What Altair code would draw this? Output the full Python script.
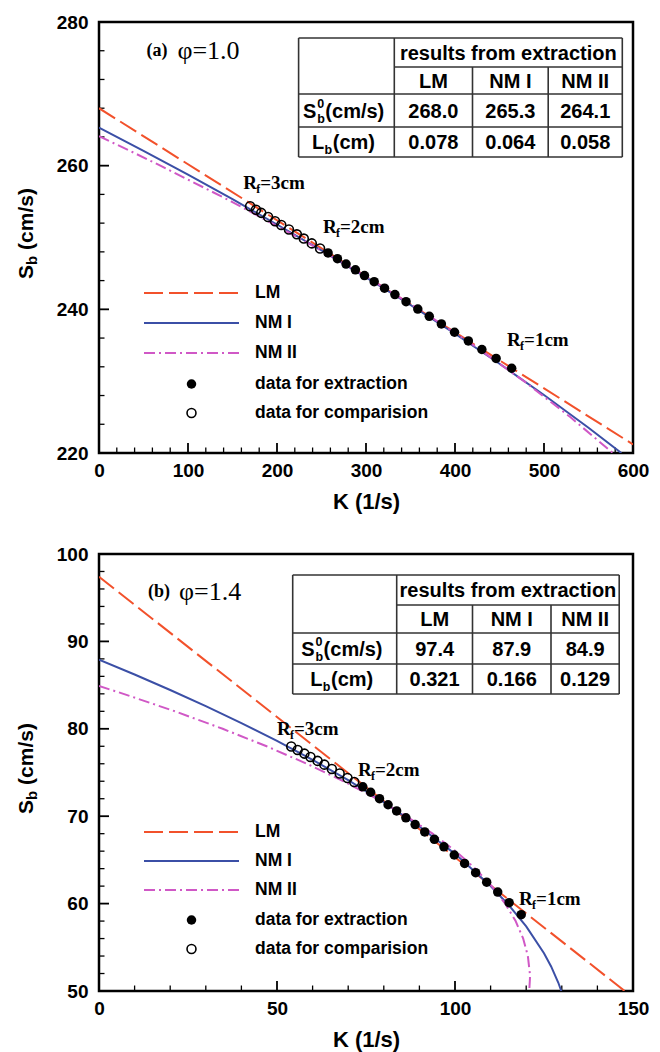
import altair as alt
import pandas as pd

SANS = "Liberation Sans"
SERIF = "Liberation Serif"

# ------------------------------------------------------------------ data
methods = ["LM", "NM I", "NM II"]
point_names = ["data for extraction", "data for comparision"]
table_header = "results from extraction"

# (a) phi = 1.0
a_lm_K = [0, 600]
a_lm_S = [268.0, 221.2]
a_nm1_K = [0, 50, 100, 150, 200, 250, 300, 350, 400, 450, 500, 550, 586.9]
a_nm1_S = [265.3, 262.06, 258.74, 255.33, 251.81, 248.20, 244.46, 240.60, 236.60, 232.43, 228.08, 223.52, 220.0]
a_nm2_K = [0, 35.8, 69.0, 148.9, 223.9, 294.2, 359.8, 420.9, 477.5, 529.5, 577.3]
a_nm2_S = [264.1, 262.0, 260.0, 255.0, 250.0, 245.0, 240.0, 235.0, 230.0, 225.0, 220.0]
a_ext_K = [257.4, 267.9, 277.6, 288.1, 298.3, 309.2, 320.8, 332.5, 345.0, 358.2, 371.1, 384.7, 399.5, 415.0, 430.2, 446.2, 463.7]
a_ext_S = [247.85, 247.05, 246.30, 245.50, 244.70, 243.85, 242.95, 242.05, 241.07, 240.04, 239.03, 237.97, 236.81, 235.60, 234.41, 233.16, 231.80]
a_cmp_K = [169.8, 176.4, 182.3, 190.0, 197.8, 204.8, 213.4, 222.3, 230.1, 239.1, 248.4]
a_cmp_S = [254.36, 253.86, 253.43, 252.86, 252.27, 251.75, 251.11, 250.44, 249.85, 249.18, 248.47]
a_S0 = ["268.0", "265.3", "264.1"]
a_Lb = ["0.078", "0.064", "0.058"]
a_rf_num = ["3", "2", "1"]
a_rf_K = [162.1, 251.7, 458.5]
a_rf_S = [257.6, 251.5, 235.8]
a_x_major = [0, 100, 200, 300, 400, 500, 600]
a_x_minor = [v for v in range(20, 600, 20) if v % 100]
a_y_major = [220, 240, 260, 280]
a_y_minor = [v for v in range(224, 280, 4) if v % 20]

# (b) phi = 1.4
b_lm_K = [0, 147.66]
b_lm_S = [97.4, 50.0]
b_nm1_K = [0, 10, 20, 30, 40, 50, 60, 70, 80, 90, 100, 110, 115, 120, 125, 127, 129, 129.87]
b_nm1_S = [87.9, 86.21, 84.44, 82.60, 80.66, 78.62, 76.45, 74.12, 71.60, 68.82, 65.69, 62.02, 59.87, 57.39, 54.33, 52.81, 50.97, 50.0]
b_nm2_K = [0, 6.87, 21.34, 34.74, 47.09, 58.40, 68.70, 78.01, 86.34, 93.71, 100.16, 105.69, 110.33, 114.10, 117.03, 119.15, 120.47, 121.03, 121.06, 120.85]
b_nm2_S = [84.9, 84, 82, 80, 78, 76, 74, 72, 70, 68, 66, 64, 62, 60, 58, 56, 54, 52, 51.49, 50]
b_ext_K = [74.1, 76.3, 78.8, 81.2, 83.6, 86.2, 88.8, 91.5, 94.2, 96.9, 99.8, 102.7, 105.8, 108.9, 112.0, 115.2, 118.6]
b_ext_S = [73.36, 72.74, 72.01, 71.31, 70.60, 69.82, 69.04, 68.20, 67.36, 66.50, 65.56, 64.60, 63.54, 62.45, 61.32, 60.10, 58.73]
b_cmp_K = [54.0, 55.8, 57.7, 59.4, 61.4, 63.3, 65.4, 67.6, 69.8, 71.7]
b_cmp_S = [77.97, 77.58, 77.16, 76.78, 76.33, 75.90, 75.41, 74.89, 74.37, 73.91]
b_S0 = ["97.4", "87.9", "84.9"]
b_Lb = ["0.321", "0.166", "0.129"]
b_rf_num = ["3", "2", "1"]
b_rf_K = [50.0, 72.75, 118.0]
b_rf_S = [79.98, 75.29, 60.53]
b_x_major = [0, 50, 100, 150]
b_x_minor = [v for v in range(10, 150, 10) if v % 50]
b_y_major = [50, 60, 70, 80, 90, 100]
b_y_minor = [v for v in range(52, 100, 2) if v % 10]

# ------------------------------------------------------------------ style
C_LM, C_NM1, C_NM2 = "#F2512B", "#3B4FA6", "#D058C6"
D_LM, D_NM2 = [19, 6], [11, 4, 2, 4]
W = 534

PANELS = [
    dict(H=431, xdom=[0, 600], ydom=[220, 280], xmaj=a_x_major, xmin=a_x_minor, ymaj=a_y_major, ymin=a_y_minor,
         lm=(a_lm_K, a_lm_S), nm1=(a_nm1_K, a_nm1_S), nm2=(a_nm2_K, a_nm2_S),
         ext=(a_ext_K, a_ext_S), cmp=(a_cmp_K, a_cmp_S), S0=a_S0, Lb=a_Lb,
         rf=(a_rf_num, a_rf_K, a_rf_S), tag="(a)", phi="\u03c6=1.0", tag_xy=(47.4, 29),
         tcols=[199.6, 295.3, 373.5, 449.2, 523.3], trows=[16, 45, 72, 105, 135],
         leg_rows=[271, 301, 331, 362, 391]),
    dict(H=437, xdom=[0, 150], ydom=[50, 100], xmaj=b_x_major, xmin=b_x_minor, ymaj=b_y_major, ymin=b_y_minor,
         lm=(b_lm_K, b_lm_S), nm1=(b_nm1_K, b_nm1_S), nm2=(b_nm2_K, b_nm2_S),
         ext=(b_ext_K, b_ext_S), cmp=(b_cmp_K, b_cmp_S), S0=b_S0, Lb=b_Lb,
         rf=(b_rf_num, b_rf_K, b_rf_S), tag="(b)", phi="\u03c6=1.4", tag_xy=(49, 38),
         tcols=[193.7, 297.7, 373.5, 452.0, 520.2], trows=[21, 51, 79, 110, 140],
         leg_rows=[278, 307, 336, 366, 395]),
]


def one():
    return pd.DataFrame({"t": [""]})


def ptext(px, py, s, size, font=SANS, weight="bold", align="center", baseline="middle", angle=None):
    kw = dict(font=font, fontSize=size, fontWeight=weight, align=align, baseline=baseline, color="black")
    if angle is not None:
        kw["angle"] = angle
    return alt.Chart(pd.DataFrame({"t": [s]})).mark_text(**kw).encode(
        x=alt.value(px), y=alt.value(py), text="t:N")


def prule(x1, y1, x2, y2, color="#333333", width=1.6, dash=None):
    kw = dict(color=color, strokeWidth=width)
    if dash:
        kw["strokeDash"] = dash
    return alt.Chart(one()).mark_rule(**kw).encode(
        x=alt.value(x1), x2=alt.value(x2), y=alt.value(y1), y2=alt.value(y2))


def panel(P):
    H = P["H"]
    xs = alt.Scale(domain=P["xdom"], nice=False, zero=False)
    ys = alt.Scale(domain=P["ydom"], nice=False, zero=False)
    xaxis = alt.Axis(values=P["xmaj"], format="d", title="K (1/s)", ticks=False, domain=False, grid=False,
                     labelFont=SANS, labelFontSize=19, labelFontWeight="bold", labelColor="black",
                     labelPadding=8, labelFlush=False, labelOverlap=False, labelBound=False,
                     titleFont=SANS, titleFontSize=22, titleFontWeight="bold", titleColor="black",
                     titlePadding=11)
    yaxis = alt.Axis(values=P["ymaj"], format="d", title=None, ticks=False, domain=False, grid=False,
                     labelFont=SANS, labelFontSize=19, labelFontWeight="bold", labelColor="black",
                     labelPadding=11, labelFlush=False, labelOverlap=False, labelBound=False)

    def X(f):
        return alt.X(f, type="quantitative", scale=xs, axis=xaxis)

    def Y(f):
        return alt.Y(f, type="quantitative", scale=ys, axis=yaxis)

    layers = []
    # inward ticks
    for vals, L, w in [(P["xmaj"], 10, 1.8), (P["xmin"], 5.5, 1.3)]:
        layers.append(alt.Chart(pd.DataFrame({"v": vals})).mark_rule(color="black", strokeWidth=w)
                      .encode(x=X("v"), y=alt.value(H), y2=alt.value(H - L)))
    for vals, L, w in [(P["ymaj"], 10, 1.8), (P["ymin"], 5.5, 1.3)]:
        layers.append(alt.Chart(pd.DataFrame({"v": vals})).mark_rule(color="black", strokeWidth=w)
                      .encode(y=Y("v"), x=alt.value(0), x2=alt.value(L)))

    # model curves
    for key, color, dash in [("lm", C_LM, D_LM), ("nm1", C_NM1, None), ("nm2", C_NM2, D_NM2)]:
        K, S = P[key]
        df = pd.DataFrame({"K": K, "S": S, "i": list(range(len(K)))})
        kw = dict(color=color, strokeWidth=2, clip=True)
        if dash:
            kw["strokeDash"] = dash
        layers.append(alt.Chart(df).mark_line(**kw).encode(x=X("K"), y=Y("S"), order=alt.Order("i:Q")))

    # data points
    K, S = P["cmp"]
    layers.append(alt.Chart(pd.DataFrame({"K": K, "S": S})).mark_point(
        shape="circle", size=80, filled=False, color="black", strokeWidth=1.6, opacity=1)
        .encode(x=X("K"), y=Y("S")))
    K, S = P["ext"]
    layers.append(alt.Chart(pd.DataFrame({"K": K, "S": S})).mark_circle(
        size=90, color="black", opacity=1).encode(x=X("K"), y=Y("S")))

    # R_f annotations
    nums, ks, ss = P["rf"]
    for num, k, s in zip(nums, ks, ss):
        for txt, size, dx, dy in [("R", 19, 0, 0), ("f", 12, 13.0, 6), ("=" + num + "cm", 19, 17.0, 0)]:
            layers.append(alt.Chart(pd.DataFrame({"t": [txt]})).mark_text(
                font=SERIF, fontSize=size, fontWeight="bold", align="left", baseline="middle",
                dx=dx, dy=dy, color="black").encode(
                x=alt.XDatum(k, type="quantitative", scale=xs, axis=xaxis),
                y=alt.YDatum(s, type="quantitative", scale=ys, axis=yaxis),
                text="t:N"))

    # panel tag
    tx, ty = P["tag_xy"]
    layers.append(ptext(tx, ty, P["tag"], 18, font=SERIF, weight="bold", align="left"))
    layers.append(ptext(tx + 31, ty, P["phi"], 26, font=SERIF, weight="normal", align="left"))

    # table
    c, r = P["tcols"], P["trows"]
    segs = [(c[0], r[0], c[4], r[0]), (c[1], r[1], c[4], r[1]), (c[0], r[2], c[4], r[2]),
            (c[0], r[3], c[4], r[3]), (c[0], r[4], c[4], r[4]),
            (c[0], r[0], c[0], r[4]), (c[1], r[0], c[1], r[4]), (c[2], r[1], c[2], r[4]),
            (c[3], r[1], c[3], r[4]), (c[4], r[0], c[4], r[4])]
    for x1, y1, x2, y2 in segs:
        layers.append(prule(x1, y1, x2, y2))
    layers.append(ptext((c[1] + c[4]) / 2, (r[0] + r[1]) / 2 + 1, table_header, 20))
    for j in range(3):
        cx = (c[j + 1] + c[j + 2]) / 2
        layers.append(ptext(cx, (r[1] + r[2]) / 2 + 1, methods[j], 20))
        layers.append(ptext(cx, (r[2] + r[3]) / 2 + 1, P["S0"][j], 20))
        layers.append(ptext(cx, (r[3] + r[4]) / 2 + 1, P["Lb"][j], 20))
    # row labels with sub/superscripts
    cx0 = (c[0] + c[1]) / 2 - 3
    yS = (r[2] + r[3]) / 2 + 1
    x0 = cx0 - 81 / 2
    layers.append(ptext(x0, yS, "S", 20, align="left"))
    layers.append(ptext(x0 + 14.2, yS + 7.5, "b", 12.5, align="left"))
    layers.append(ptext(x0 + 14.2, yS - 7.5, "0", 12.5, align="left"))
    layers.append(ptext(x0 + 22.4, yS, "(cm/s)", 20, align="left"))
    yL = (r[3] + r[4]) / 2 + 1
    x0 = cx0 - 63 / 2
    layers.append(ptext(x0, yL, "L", 20, align="left"))
    layers.append(ptext(x0 + 12.6, yL + 7, "b", 12.5, align="left"))
    layers.append(ptext(x0 + 20.8, yL, "(cm)", 20, align="left"))

    # legend
    rows = P["leg_rows"]
    lx0, lx1, ltx = 45, 140, 156
    lcx = (lx0 + lx1) / 2
    for idx, (color, dash) in enumerate([(C_LM, D_LM), (C_NM1, None), (C_NM2, D_NM2)]):
        layers.append(prule(lx0, rows[idx], lx1, rows[idx], color=color, width=2, dash=dash))
        layers.append(ptext(ltx, rows[idx], methods[idx], 17.5, align="left"))
    layers.append(alt.Chart(one()).mark_circle(size=90, color="black", opacity=1)
                  .encode(x=alt.value(lcx), y=alt.value(rows[3])))
    layers.append(alt.Chart(one()).mark_point(shape="circle", size=80, filled=False, color="black",
                                              strokeWidth=1.6, opacity=1)
                  .encode(x=alt.value(lcx), y=alt.value(rows[4])))
    layers.append(ptext(ltx, rows[3], point_names[0], 17.5, align="left"))
    layers.append(ptext(ltx, rows[4], point_names[1], 17.5, align="left"))

    # y-axis title  S_b (cm/s), rotated
    yc = H / 2 - 4
    bx = -66
    total = 14.0 + 9.2 + 5.8 + 61.8
    y0 = yc + total / 2
    layers.append(ptext(bx, y0, "S", 21, align="left", baseline="alphabetic", angle=270))
    layers.append(ptext(bx + 4, y0 - 14.0, "b", 15, align="left", baseline="alphabetic", angle=270))
    layers.append(ptext(bx, y0 - 14.0 - 9.2 - 5.8, "(cm/s)", 21, align="left", baseline="alphabetic", angle=270))

    return alt.layer(*layers).properties(width=W, height=H)


chart = alt.vconcat(panel(PANELS[0]), panel(PANELS[1]), spacing=101, bounds="flush").properties(
    padding={"left": 14, "top": 11, "right": 5, "bottom": 2}, background="white"
).configure_view(stroke="black", strokeWidth=2.5)

chart.save("out.html", embed_options={"renderer": "svg", "actions": False})
